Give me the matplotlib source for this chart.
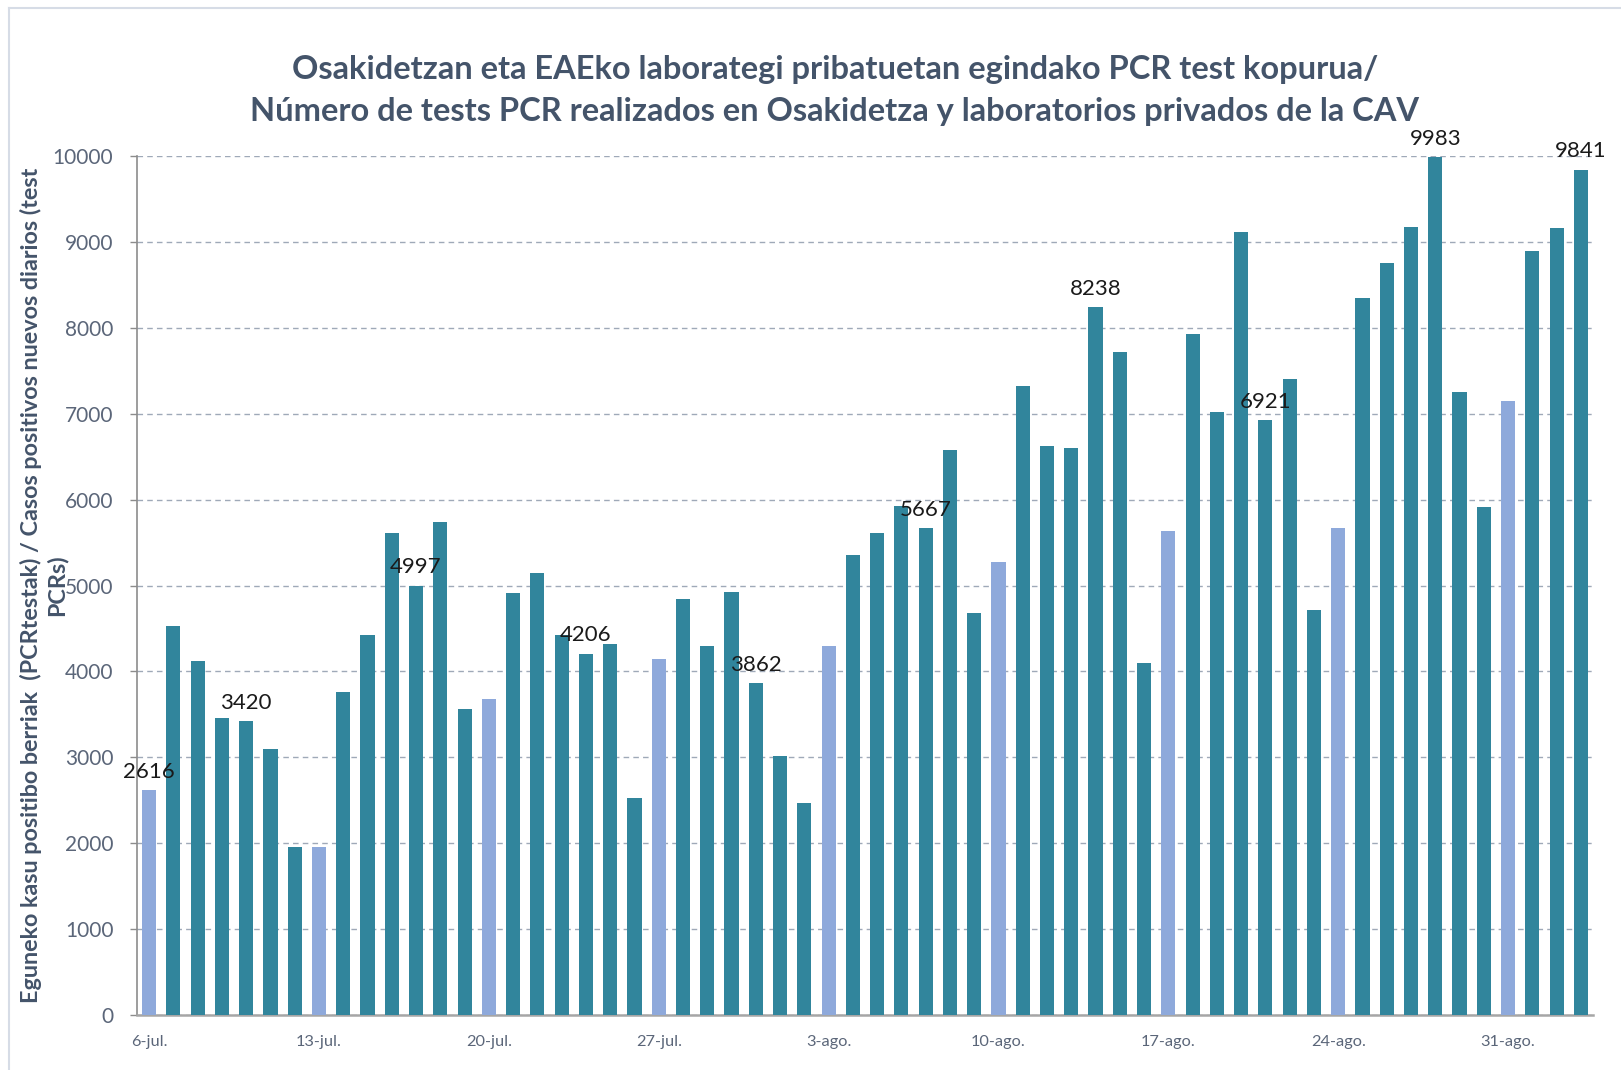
import matplotlib
matplotlib.use("Agg")
import matplotlib.pyplot as plt
from matplotlib.lines import Line2D

# ---- data ----
dates = ["6-jul.", "7-jul.", "8-jul.", "9-jul.", "10-jul.", "11-jul.", "12-jul.",
         "13-jul.", "14-jul.", "15-jul.", "16-jul.", "17-jul.", "18-jul.", "19-jul.",
         "20-jul.", "21-jul.", "22-jul.", "23-jul.", "24-jul.", "25-jul.", "26-jul.",
         "27-jul.", "28-jul.", "29-jul.", "30-jul.", "31-jul.", "1-ago.", "2-ago.",
         "3-ago.", "4-ago.", "5-ago.", "6-ago.", "7-ago.", "8-ago.", "9-ago.",
         "10-ago.", "11-ago.", "12-ago.", "13-ago.", "14-ago.", "15-ago.", "16-ago.",
         "17-ago.", "18-ago.", "19-ago.", "20-ago.", "21-ago.", "22-ago.", "23-ago.",
         "24-ago.", "25-ago.", "26-ago.", "27-ago.", "28-ago.", "29-ago.", "30-ago.",
         "31-ago.", "1-sep.", "2-sep.", "3-sep."]
tests = [2616, 4530, 4125, 3454, 3420, 3100, 1960,
         1960, 3760, 4424, 5615, 4997, 5743, 3565,
         3678, 4909, 5140, 4420, 4206, 4319, 2525,
         4140, 4840, 4292, 4926, 3862, 3015, 2466,
         4292, 5360, 5608, 5920, 5667, 6580, 4678,
         5275, 7325, 6619, 6605, 8238, 7719, 4095,
         5638, 7930, 7014, 9120, 6921, 7404, 4714,
         5664, 8350, 8760, 9175, 9983, 7254, 5915,
         7153, 8890, 9156, 9841]
# Mondays highlighted in light colour
monday = [i % 7 == 0 for i in range(len(dates))]
labelled = [0, 4, 11, 18, 25, 32, 39, 46, 53, 59]
tick_idx = list(range(0, len(dates), 7))
yticks = list(range(0, 10001, 1000))

title1 = "Osakidetzan eta EAEko laborategi pribatuetan egindako PCR test kopurua/"
title2 = "Número de tests PCR realizados en Osakidetza y laboratorios privados de la CAV"
ylabel = ("Eguneko kasu positibo berriak  (PCRtestak) / Casos positivos nuevos diarios (test\n"
          "PCRs)")

DARK = "#31859C"
LIGHT = "#8EA9DB"
SLATE = "#44546A"
TICKC = "#5B6679"

plt.rcParams["font.family"] = ["Lato", "DejaVu Sans"]

W, H = 1621, 1070
fig = plt.figure(figsize=(W / 100, H / 100), dpi=100)
ax = fig.add_axes([137 / W, (H - 1015) / H, (1593 - 137) / W, (1015 - 156) / H])

x = list(range(len(tests)))
colors = [LIGHT if m else DARK for m in monday]
ax.bar(x, tests, width=0.58, color=colors, zorder=3)

ax.set_xlim(-0.5, len(tests) - 0.5)
ax.set_ylim(0, 10000)
ax.set_yticks(yticks)
ax.set_yticklabels([str(v) for v in yticks], fontsize=15, color=TICKC)
ax.set_xticks(tick_idx)
ax.set_xticklabels([dates[i] for i in tick_idx], fontsize=11.8, color=TICKC)
ax.tick_params(axis="x", length=0, pad=14.5)
ax.tick_params(axis="y", length=5, width=1, color="#8C8C8C", pad=12)

ax.grid(axis="y", linestyle=(0, (4, 3)), color="#9FA9B8", linewidth=1, zorder=0)
ax.set_axisbelow(True)
for s in ["top", "right"]:
    ax.spines[s].set_visible(False)
ax.spines["left"].set_color("#8C8C8C")
ax.spines["left"].set_linewidth(1.2)
ax.spines["bottom"].set_color("#A6A6A6")
ax.spines["bottom"].set_linewidth(1.8)

for i in labelled:
    ax.annotate(str(tests[i]), (i, tests[i]), xytext=(0, 6), textcoords="offset points",
                ha="center", va="bottom", fontsize=16, color="#1a1a1a",
                annotation_clip=False, zorder=5)

fig.text(835 / W, 1 - 70 / H, title1, ha="center", va="center", fontsize=23.5,
         fontweight="bold", color=SLATE)
fig.text(835 / W, 1 - 111 / H, title2, ha="center", va="center", fontsize=23.5,
         fontweight="bold", color=SLATE)

fig.text(44 / W, 1 - 585 / H, ylabel, rotation=90, ha="center", va="center",
         multialignment="center", fontsize=16.8, fontweight="bold", color=SLATE,
         linespacing=1.2)

# chart-area border
fig.add_artist(Line2D([9 / W, 1.0], [1 - 8 / H, 1 - 8 / H], transform=fig.transFigure,
                      color="#D6DCE6", linewidth=1.5))
fig.add_artist(Line2D([9 / W, 9 / W], [0, 1 - 8 / H], transform=fig.transFigure,
                      color="#D6DCE6", linewidth=1.5))

fig.savefig("out.png", dpi=100)
